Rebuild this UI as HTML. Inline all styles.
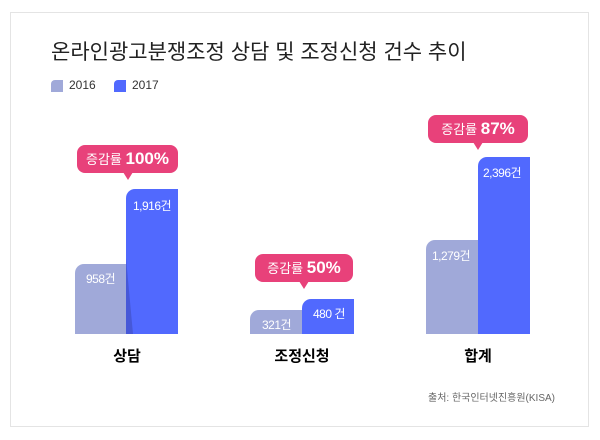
<!DOCTYPE html>
<html><head><meta charset="utf-8"><style>
body{margin:0;width:600px;height:440px;background:#fff;font-family:"Liberation Sans","Noto Sans CJK KR",sans-serif;position:relative;overflow:hidden}
.card{position:absolute;left:10px;top:12px;width:579px;height:415px;border:1px solid #e4e4e4;box-sizing:border-box}
.t{position:absolute;white-space:nowrap}
.bar{position:absolute;border-top-left-radius:9px}
.g{background:#a0a9d9}.b{background:#5169fe}
.lbl{position:absolute;color:#fff;font-size:12px;letter-spacing:-0.5px;white-space:nowrap}
.call{position:absolute;background:#e8417a;border-radius:8px;color:#fff;height:28px;line-height:28px;text-align:center;font-size:13px;white-space:nowrap}
.call b{font-size:17px}
.call:after{content:"";position:absolute;bottom:-7px;border-left:5px solid transparent;border-right:5px solid transparent;border-top:8px solid #e8417a}
.cat{position:absolute;font-weight:bold;font-size:15px;top:345px;width:104px;text-align:center}
.sh{position:absolute;width:0;height:0}
</style></head><body>
<div class="card"></div>
<div class="t" style="left:51px;top:36px;font-size:21px;color:#222">온라인광고분쟁조정 상담 및 조정신청 건수 추이</div>
<div class="t" style="left:51px;top:80px;width:12px;height:12px;background:#a0a9d9;border-top-left-radius:4px"></div>
<div class="t" style="left:69px;top:78px;font-size:12px;color:#333">2016</div>
<div class="t" style="left:114px;top:80px;width:12px;height:12px;background:#5169fe;border-top-left-radius:4px"></div>
<div class="t" style="left:132px;top:78px;font-size:12px;color:#333">2017</div>

<div class="bar g" style="left:75px;top:264px;width:52px;height:70px"></div>
<div class="bar b" style="left:126px;top:189px;width:52px;height:145px"></div>
<svg class="t" style="left:0;top:0" width="600" height="440"><polygon points="126,258 126,334 133,334" fill="#4658d8"/><polygon points="302,308 302,334 306,334" fill="#4658d8"/><polygon points="478,242 478,334 485,334" fill="#4658d8"/></svg>
<div class="lbl" style="left:86px;top:270px">958건</div>
<div class="lbl" style="left:133px;top:197px">1,916건</div>

<div class="bar g" style="left:250px;top:310px;width:52px;height:24px"></div>
<div class="bar b" style="left:302px;top:299px;width:52px;height:35px"></div>
<div class="lbl" style="left:262px;top:316px">321건</div>
<div class="lbl" style="left:313px;top:305px">480 건</div>

<div class="bar g" style="left:426px;top:240px;width:52px;height:94px"></div>
<div class="bar b" style="left:478px;top:157px;width:52px;height:177px"></div>
<div class="lbl" style="left:432px;top:247px">1,279건</div>
<div class="lbl" style="left:483px;top:164px">2,396건</div>

<div class="call" style="left:77px;top:145px;width:101px">증감률 <b>100%</b><span></span></div>
<div class="call" style="left:255px;top:254px;width:98px">증감률 <b>50%</b></div>
<div class="call" style="left:428px;top:115px;width:100px">증감률 <b>87%</b></div>
<style>.call:nth-of-type(n):after{left:calc(50% - 5px)}</style>

<div class="cat" style="left:75px">상담</div>
<div class="cat" style="left:250px">조정신청</div>
<div class="cat" style="left:426px">합계</div>
<div class="t" style="left:428px;top:389px;font-size:10px;color:#666">출처: 한국인터넷진흥원(KISA)</div>
</body></html>
